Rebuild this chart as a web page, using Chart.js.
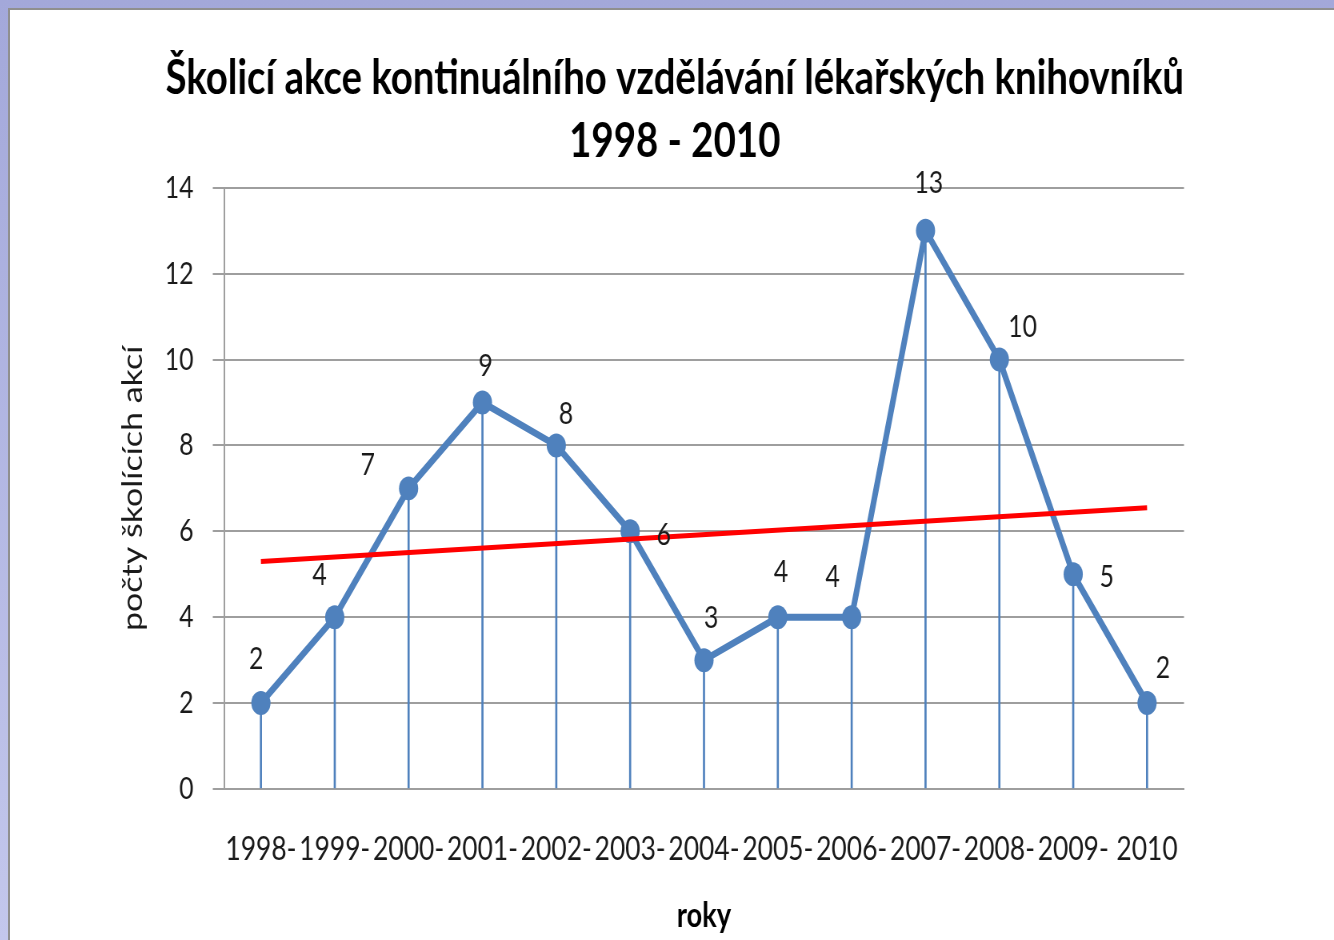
<!DOCTYPE html>
<html>
<head>
<meta charset="utf-8">
<title>Školicí akce</title>
<script src="https://cdn.jsdelivr.net/npm/chart.js@4/dist/chart.umd.min.js"></script>
<style>
  html, body { margin: 0; padding: 0; }
  body {
    width: 1334px;
    height: 940px;
    overflow: hidden;
    background: linear-gradient(#a3a8da, #c3c7ec);
  }
  #frame {
    position: absolute;
    left: 8px;
    top: 8px;
    width: 1326px;
    height: 932px;
    border-left: 2px solid #8f8f8f;
    border-top: 2px solid #8f8f8f;
    background: #fff;
  }
</style>
</head>
<body>
<div id="frame">
  <!-- the original slide is squeezed sideways, so the canvas is drawn wider and shrunk -->
  <canvas id="chart" width="1655" height="930" style="display:block;width:1324px;height:930px"></canvas>
</div>
<script>
const years = ["1998-", "1999-", "2000-", "2001-", "2002-", "2003-", "2004-",
               "2005-", "2006-", "2007-", "2008-", "2009-", "2010"];
const counts = [2, 4, 7, 9, 8, 6, 3, 4, 4, 13, 10, 5, 2];
// red trend line, only its two ends are drawn
const trend = [5.3, null, null, null, null, null, null, null, null, null, null, null, 6.55];
const yTicks = [0, 2, 4, 6, 8, 10, 12, 14];

const BLUE = "#4f81bd";
const GRID = "#9e9e9e";
const TEXT = "#1a1a1a";

Chart.defaults.font.family = "Lato";
Chart.defaults.color = TEXT;

// where each value label sits relative to its point (canvas px)
const labelShift = [
  [-6, -44], [-19, -42], [-51, -23], [4, -36], [12, -31], [42, 4], [9, -42],
  [4, -45], [-24, -40], [4, -48], [29, -33], [42, 3], [20, -35]
];

const valueLabels = {
  id: "valueLabels",
  afterDatasetsDraw(chart) {
    const meta = chart.getDatasetMeta(1);
    const ctx = chart.ctx;
    ctx.save();
    ctx.font = "31px Lato";
    ctx.fillStyle = TEXT;
    ctx.textAlign = "center";
    ctx.textBaseline = "middle";
    meta.data.forEach((pt, i) => {
      const s = labelShift[i] || [0, -40];
      ctx.fillText(String(counts[i]), pt.x + s[0], pt.y + s[1]);
    });
    ctx.restore();
  }
};

new Chart(document.getElementById("chart"), {
  type: "line",
  data: {
    labels: years,
    datasets: [
      {
        type: "bar",
        data: counts,
        backgroundColor: BLUE,
        barThickness: 2,
        order: 3
      },
      {
        data: counts,
        borderColor: BLUE,
        borderWidth: 7,
        pointRadius: 12,
        pointBackgroundColor: BLUE,
        pointBorderWidth: 0,
        tension: 0,
        order: 2
      },
      {
        data: trend,
        borderColor: "#ff0000",
        borderWidth: 5,
        pointRadius: 0,
        spanGaps: true,
        order: 1
      }
    ]
  },
  options: {
    responsive: false,
    animation: false,
    // left/right padding also centres the title where the original has it
    layout: { padding: { left: 194.5, right: 187.5, top: 0, bottom: 0 } },
    plugins: {
      legend: { display: false },
      tooltip: { enabled: false },
      title: {
        display: true,
        text: ["Školicí akce kontinuálního vzdělávání lékařských knihovníků", "1998 - 2010"],
        color: "#000",
        font: { size: 48, weight: "bold", lineHeight: 1.31 },
        padding: { top: 37, bottom: 15 }
      }
    },
    scales: {
      x: {
        offset: true,
        grid: { display: false },
        border: { color: GRID, width: 2 },
        ticks: {
          autoSkip: false,
          maxRotation: 0,
          minRotation: 0,
          padding: 33,
          font: { size: 33 }
        },
        title: {
          display: true,
          text: "roky",
          color: "#000",
          font: { size: 34, weight: "bold" },
          padding: { top: 0, bottom: 4 }
        },
        afterFit(scale) { scale.height = 151; }
      },
      y: {
        min: 0,
        max: 14,
        afterBuildTicks(scale) { scale.ticks = yTicks.map(v => ({ value: v })); },
        grid: { color: GRID, lineWidth: 2, tickLength: 14 },
        border: { color: GRID, width: 2 },
        ticks: { padding: 24, font: { size: 31 } },
        title: {
          display: true,
          text: "počty školících akcí",
          font: { size: 34 },
          padding: { top: -61, bottom: 0 }
        },
        afterFit(scale) { scale.width = 73; }
      }
    }
  },
  plugins: [valueLabels]
});
</script>
</body>
</html>
